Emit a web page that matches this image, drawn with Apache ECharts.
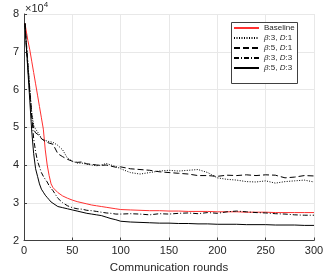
<!DOCTYPE html>
<html><head><meta charset="utf-8">
<script src="https://cdn.jsdelivr.net/npm/echarts@6/dist/echarts.min.js"></script>
<style>html,body{margin:0;padding:0;background:#fff}#c{width:323px;height:272px}</style>
</head><body><div id="c"></div>
<script>
// Communication rounds (x)
const rounds = [1,2,4,6,8,10,12,14,16,18,20,22,24,26,28,30,35,40,45,50,55,60,65,70,75,80,85,90,95,100,110,120,130,140,150,160,170,180,190,200,210,220,230,240,250,260,270,280,290,300];
// Loss values in units of 10^4
const baseline = [7.75,7.6,7.3,7.05,6.75,6.45,6.15,5.85,5.55,5.25,4.95,4.4,4.0,3.72,3.5,3.4,3.27,3.18,3.12,3.07,3.03,3.0,2.97,2.94,2.92,2.9,2.88,2.86,2.84,2.82,2.81,2.8,2.79,2.79,2.78,2.78,2.77,2.77,2.77,2.76,2.76,2.76,2.75,2.75,2.75,2.74,2.74,2.74,2.74,2.74];
const b3d1 = [7.75,7.35,6.7,6.0,5.4,5.05,4.95,4.88,4.8,4.7,4.72,4.65,4.6,4.62,4.58,4.6,4.52,4.4,4.18,4.1,4.05,4.05,4.02,4.0,3.98,4.0,4.04,4.0,3.96,3.9,3.8,3.76,3.8,3.84,3.86,3.84,3.86,3.88,3.8,3.66,3.62,3.6,3.56,3.55,3.58,3.52,3.56,3.58,3.6,3.55];
const b5d1 = [7.75,7.3,6.6,5.9,5.3,4.95,4.85,4.8,4.78,4.7,4.68,4.62,4.6,4.58,4.6,4.55,4.3,4.22,4.15,4.1,4.07,4.08,4.03,4.02,4.0,3.99,4.0,3.97,3.94,3.95,3.9,3.88,3.86,3.82,3.8,3.78,3.76,3.72,3.72,3.7,3.73,3.72,3.74,3.72,3.74,3.73,3.66,3.68,3.72,3.71];
const b3d3 = [7.75,7.4,6.7,6.0,5.3,4.7,4.35,4.1,3.95,3.8,3.7,3.62,3.55,3.45,3.38,3.32,3.12,3.0,2.92,2.87,2.84,2.83,2.8,2.79,2.77,2.75,2.73,2.72,2.7,2.7,2.71,2.7,2.68,2.71,2.7,2.72,2.73,2.71,2.74,2.72,2.76,2.78,2.76,2.74,2.73,2.71,2.7,2.68,2.67,2.67];
const b5d3 = [7.75,7.3,6.5,5.7,4.9,4.3,3.9,3.7,3.5,3.36,3.28,3.2,3.14,3.08,3.02,2.98,2.9,2.87,2.84,2.81,2.78,2.75,2.72,2.7,2.68,2.66,2.62,2.58,2.55,2.51,2.49,2.48,2.47,2.46,2.46,2.45,2.45,2.44,2.44,2.43,2.43,2.43,2.42,2.42,2.42,2.41,2.41,2.41,2.4,2.4];
const xTicks = {min:0, max:300, interval:50};
const yTicks = {min:2, max:8, interval:1};
const seriesNames = ['Baseline','b3d1','b5d1','b3d3','b5d3'];
const legendLabels = {
  'Baseline':'Baseline',
  'b3d1':'{i|β}:3, {i|D}:1',
  'b5d1':'{i|β}:5, {i|D}:1',
  'b3d3':'{i|β}:3, {i|D}:3',
  'b5d3':'{i|β}:5, {i|D}:3'
};
const F = 'Liberation Sans, Arial, Helvetica, sans-serif';
const pair = a => rounds.map((x,i)=>[x,a[i]]);
const mk = (name, data, color, type) => ({
  name, type:'line', data: pair(data), symbol:'none', showSymbol:false, smooth:false,
  lineStyle:{color, width:1, type}, itemStyle:{color}, emphasis:{disabled:true}, z:2
});
const chart = echarts.init(document.getElementById('c'), null, {renderer:'canvas'});
chart.setOption({
  animation:false,
  backgroundColor:'#fff',
  grid:{left:24, top:14, right:9, bottom:31.5, containLabel:false, outerBoundsMode:'none'},
  xAxis:{type:'value', min:xTicks.min, max:xTicks.max, interval:xTicks.interval,
    name:'Communication rounds', nameLocation:'middle', nameGap:20,
    nameTextStyle:{fontFamily:F, fontSize:11.5, color:'#262626'},
    axisLine:{show:true, onZero:false, lineStyle:{color:'#404040', width:1}},
    axisTick:{show:true, inside:true, length:3, lineStyle:{color:'#404040'}},
    axisLabel:{fontFamily:F, fontSize:11, color:'#262626', margin:5},
    splitLine:{show:true, lineStyle:{color:'#e8e8e8', width:1}}
  },
  yAxis:{type:'value', min:yTicks.min, max:yTicks.max, interval:yTicks.interval,
    name:'Loss', nameLocation:'middle', nameGap:15, nameRotate:90,
    nameTextStyle:{fontFamily:F, fontSize:11.5, color:'#262626'},
    axisLine:{show:true, onZero:false, lineStyle:{color:'#404040', width:1}},
    axisTick:{show:true, inside:true, length:3, lineStyle:{color:'#404040'}},
    axisLabel:{fontFamily:F, fontSize:11, color:'#262626', margin:5},
    splitLine:{show:true, lineStyle:{color:'#e8e8e8', width:1}}
  },
  legend:{orient:'vertical', left:233, top:24, itemWidth:25, itemHeight:10, itemGap:2,
    padding:0, backgroundColor:'transparent', borderWidth:0, z:5,
    data:seriesNames, selectedMode:false,
    itemStyle:{opacity:0},
    formatter: n => legendLabels[n],
    textStyle:{fontFamily:F, fontSize:8, color:'#262626',
      rich:{i:{fontStyle:'italic', fontFamily:F, fontSize:8, color:'#262626'}}}
  },
  graphic:[
    {type:'rect', z:4, shape:{x:231.5, y:22.5, width:66, height:61},
      style:{fill:'#fff', stroke:'#404040', lineWidth:1}},
    {type:'text', left:25, top:1,
    style:{text:'×10{s|4}', fontFamily:F, fontSize:11, fill:'#262626',
      rich:{s:{fontSize:8, verticalAlign:'top', padding:[0,0,7,0], fontFamily:F, fill:'#262626'}}}}],
  series:[
    mk('Baseline', baseline, '#ff3030', 'solid'),
    mk('b3d1', b3d1, '#000', [1,1.5]),
    mk('b5d1', b5d1, '#000', [6,3]),
    mk('b3d3', b3d3, '#000', [5,2,1,2]),
    mk('b5d3', b5d3, '#000', 'solid')
  ]
});
</script></body></html>
